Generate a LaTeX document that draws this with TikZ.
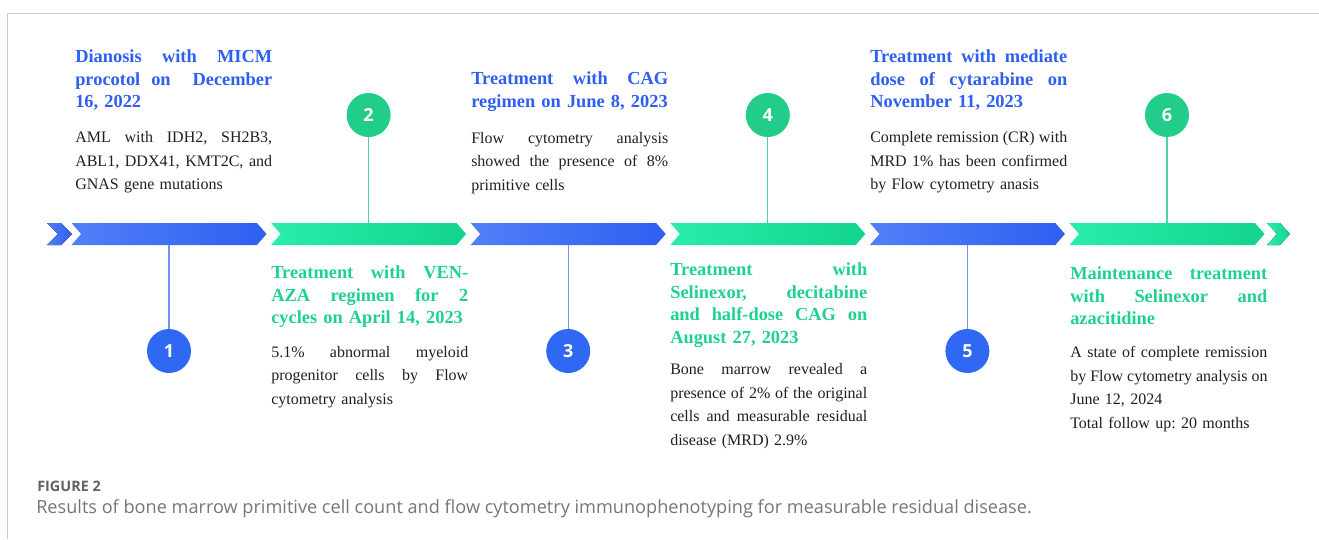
\documentclass[tikz,border=0pt]{standalone}
\usepackage{fontspec}
\setmainfont{Liberation Serif}
\newfontfamily\capfont{Open Sans}
\usetikzlibrary{positioning, shapes.symbols}

\definecolor{bandbluel}{HTML}{5080F8}
\definecolor{bandblued}{HTML}{2F5FF0}
\definecolor{bandgreenl}{HTML}{28EEAA}
\definecolor{bandgreend}{HTML}{12D48C}
\definecolor{ttlblue}{HTML}{2E5EF2}
\definecolor{ttlgreen}{HTML}{1FD28C}
\definecolor{numblue}{HTML}{2F68F2}
\definecolor{numgreen}{HTML}{22CC8A}
\definecolor{capgray}{HTML}{767676}

% one justified line of a text block (spaces stretch to the full width)
\newcommand{\fl}[1]{\leavevmode\hbox to\hsize{\spaceskip=\fontdimen2\font plus 1fil\relax #1}\\}

\begin{document}
\frenchspacing
\begin{tikzpicture}[x=0.75pt,y=-0.75pt,
    seg/.style={shape=signal, signal from=west, signal to=east,
      signal pointer angle=98, minimum width=146.25pt,
      minimum height=16.5pt, inner sep=0pt},
    bseg/.style={seg, left color=bandbluel, right color=bandblued},
    gseg/.style={seg, left color=bandgreenl, right color=bandgreend},
    num/.style={circle, minimum size=33pt, inner sep=0pt, text=white,
      font=\capfont\bfseries\fontsize{13.5}{13.5}\selectfont},
    bnum/.style={num, fill=numblue},
    gnum/.style={num, fill=numgreen},
    bline/.style={draw=numblue!70, line width=0.9pt},
    gline/.style={draw=numgreen!80, line width=0.9pt},
    ttl/.style={anchor=north west, inner sep=0pt, text width=147.75pt,
      font=\bfseries\fontsize{13.8}{16.9}\selectfont},
    txt/.style={anchor=north west, inner sep=0pt, text width=147.75pt,
      text=black!88, font=\fontsize{12}{17.6}\selectfont}]

  \useasboundingbox (0,0) rectangle (1319,539);
  \draw[black!20, line width=0.75pt] (1319,13) -- (7,13) -- (7,539);

  % the band of chevrons
  \fill[left color=bandbluel, right color=bandblued]
    (47,223) -- (61,223) -- (72,234) -- (61,245) -- (47,245) -- (58,234) -- cycle;
  \node[bseg] (s1) at (169,234) {};
  \node[gseg] (s2) at (368.6,234) {};
  \node[bseg] (s3) at (568.2,234) {};
  \node[gseg] (s4) at (767.8,234) {};
  \node[bseg] (s5) at (967.4,234) {};
  \node[gseg] (s6) at (1167,234) {};
  \fill[left color=bandgreenl, right color=bandgreend]
    (1267,223) -- (1280,223) -- (1290,234) -- (1280,245) -- (1267,245) -- (1277,234) -- cycle;

  % numbered steps
  \node[bnum] (n1) at (169,351) {1};
  \node[gnum] (n2) at (368.6,115) {2};
  \node[bnum] (n3) at (568.2,351) {3};
  \node[gnum] (n4) at (767.8,115) {4};
  \node[bnum] (n5) at (967.4,351) {5};
  \node[gnum] (n6) at (1167,115) {6};

  \draw[bline] (s1) -- (n1);
  \draw[gline] (n2) -- (s2);
  \draw[bline] (s3) -- (n3);
  \draw[gline] (n4) -- (s4);
  \draw[bline] (s5) -- (n5);
  \draw[gline] (n6) -- (s6);

  % step 1
  \node[ttl, text=ttlblue] (t1) at (75,49.5)
    {\fl{Dianosis with MICM}\fl{procotol on \ December}16, 2022};
  \node[txt, below=15.5pt of t1.south west, anchor=north west] (b1)
    {\fl{AML with IDH2, SH2B3,}\fl{ABL1, DDX41, KMT2C, and}GNAS gene mutations};

  % step 2
  \node[ttl, text=ttlgreen] (t2) at (271,265.5)
    {\fl{Treatment with VEN-}\fl{AZA regimen for 2}cycles on April 14, 2023};
  \node[txt, below=13.5pt of t2.south west, anchor=north west] (b2)
    {\fl{5.1\% abnormal myeloid}\fl{progenitor cells by Flow}cytometry analysis};

  % step 3
  \node[ttl, text=ttlblue] (t3) at (471,71.5)
    {\fl{Treatment with CAG}regimen on June 8, 2023};
  \node[txt, below=15.5pt of t3.south west, anchor=north west] (b3)
    {\fl{Flow cytometry analysis}\fl{showed the presence of 8\%}primitive cells};

  % step 4
  \node[ttl, text=ttlgreen] (t4) at (670,262.5)
    {\fl{Treatment with}\fl{Selinexor, decitabine}\fl{and half-dose CAG on}August 27, 2023};
  \node[txt, below=12pt of t4.south west, anchor=north west] (b4)
    {\fl{Bone marrow revealed a}\fl{presence of 2\% of the original}\fl{cells and measurable residual}disease (MRD) 2.9\%};

  % step 5
  \node[ttl, text=ttlblue] (t5) at (870,49.5)
    {\fl{Treatment with mediate}\fl{dose of cytarabine on}November 11, 2023};
  \node[txt, below=15.5pt of t5.south west, anchor=north west] (b5)
    {\fl{Complete remission (CR) with}\fl{MRD 1\% has been confirmed}by Flow cytometry anasis};

  % step 6
  \node[ttl, text=ttlgreen] (t6) at (1070,266.5)
    {\fl{Maintenance treatment}\fl{with Selinexor and}azacitidine};
  \node[txt, below=16pt of t6.south west, anchor=north west] (b6)
    {\fl{A state of complete remission}\fl{by Flow cytometry analysis on}June 12, 2024\\Total follow up: 20 months};

  % caption
  \node[anchor=base west, inner sep=0pt, text=black!62,
    font=\capfont\bfseries\fontsize{10.8}{13}\selectfont] (fig) at (37,491) {FIGURE 2};
  \node[anchor=base west, inner sep=0pt, text=capgray,
    font=\capfont\fontsize{13.6}{16}\selectfont] (cap) at (36,513)
    {Results of bone marrow primitive cell count and flow cytometry immunophenotyping for measurable residual disease.};
\end{tikzpicture}
\end{document}
